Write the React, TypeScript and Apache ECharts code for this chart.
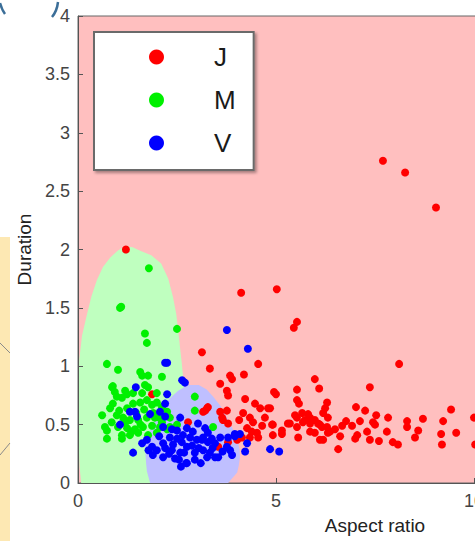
import React, { useEffect, useRef } from "react";
import * as echarts from "echarts";

const FONT = "Liberation Sans, Arial, sans-serif";

const seriesNames = ["J", "M", "V"];
const seriesColors = ["#ff0000", "#00f000", "#0000ff"];

const jData: number[][] = [
  [1.21, 2.0],
  [7.7, 2.76], [8.26, 2.66], [9.04, 2.36],
  [4.12, 1.63], [5.02, 1.66], [5.53, 1.38], [5.45, 1.33],
  [8.11, 1.02], [5.98, 0.89], [5.53, 0.8], [6.09, 0.81], [7.37, 0.82],
  [4.95, 0.78], [5.0, 0.76], [5.53, 0.71], [5.58, 0.68], [6.29, 0.69], [6.24, 0.64], [7.02, 0.65], [7.25, 0.62], [9.42, 0.63], [4.85, 0.64],
  [5.48, 0.58], [5.81, 0.59], [6.19, 0.6], [6.31, 0.56], [7.53, 0.58], [7.83, 0.56], [8.71, 0.55], [10.0, 0.56],
  [4.92, 0.5], [5.35, 0.51], [5.68, 0.52], [5.86, 0.51], [6.77, 0.53], [7.12, 0.53], [7.45, 0.52], [8.31, 0.53], [9.22, 0.53],
  [5.15, 0.45], [5.53, 0.48], [6.16, 0.48], [6.67, 0.49], [8.31, 0.48], [7.8, 0.44], [8.59, 0.45], [9.17, 0.42], [9.55, 0.43], [7.05, 0.41], [5.56, 0.39], [6.49, 0.46],
  [6.11, 0.5], [6.29, 0.48], [6.92, 0.49], [7.5, 0.5], [7.3, 0.44], [7.0, 0.38], [6.62, 0.4], [6.36, 0.44], [6.11, 0.37], [7.37, 0.37], [7.6, 0.36], [7.95, 0.35], [8.08, 0.33], [8.51, 0.39], [9.19, 0.33], [10.03, 0.33], [6.57, 0.29],
  [3.13, 1.12], [4.55, 1.02], [3.33, 0.98], [3.84, 0.92], [3.89, 0.89], [4.19, 0.93], [3.59, 0.85], [3.76, 0.79], [3.79, 0.75], [4.22, 0.72], [4.47, 0.68], [4.6, 0.64], [4.8, 0.64], [3.26, 0.64], [3.16, 0.61], [3.59, 0.61], [3.76, 0.62], [4.17, 0.6], [4.34, 0.56], [4.42, 0.52], [4.72, 0.56], [4.9, 0.5], [4.65, 0.49], [3.66, 0.54], [3.79, 0.51], [3.64, 0.56], [4.07, 0.54], [4.27, 0.47], [4.39, 0.44], [4.52, 0.43], [4.34, 0.39], [4.55, 0.39], [5.15, 0.42], [5.3, 0.51], [5.53, 0.56], [5.66, 0.6], [5.73, 0.54], [5.86, 0.56], [5.98, 0.54], [6.06, 0.51], [5.86, 0.44], [5.98, 0.43], [4.92, 0.41], [6.19, 0.37], [6.31, 0.43], [4.02, 0.37], [3.79, 0.35], [4.14, 0.39],
  [1.87, 0.76], [2.78, 0.52], [3.21, 0.62], [3.28, 0.65], [3.54, 0.31],
];

const mData: number[][] = [
  [1.79, 1.84], [1.06, 1.5], [1.09, 1.51], [2.5, 1.32], [1.69, 1.28], [1.74, 1.2],
  [0.73, 1.02], [1.01, 0.97], [1.57, 0.95], [1.62, 0.92], [1.77, 0.92], [2.12, 0.91], [0.88, 0.83], [0.93, 0.78], [0.98, 0.74], [1.19, 0.79], [1.24, 0.76], [1.69, 0.84], [1.77, 0.82], [1.62, 0.77], [1.39, 0.77], [1.99, 0.77], [2.95, 0.74], [2.95, 0.62], [0.88, 0.68], [0.81, 0.64], [0.61, 0.58], [0.68, 0.48], [0.73, 0.45], [0.73, 0.38], [1.11, 0.38], [0.86, 0.82],
  [1.24, 0.64], [1.39, 0.68], [1.57, 0.69], [1.74, 0.71], [1.87, 0.67], [1.99, 0.69], [2.12, 0.65], [2.25, 0.61], [2.32, 0.56],
  [0.98, 0.58], [1.14, 0.56], [1.31, 0.54], [1.52, 0.54], [1.74, 0.56], [1.94, 0.56], [2.12, 0.52],
  [1.01, 0.48], [1.24, 0.47], [1.44, 0.46], [1.64, 0.48], [1.87, 0.49], [2.07, 0.48], [2.25, 0.46],
  [1.11, 0.41], [1.31, 0.41], [1.52, 0.43], [1.77, 0.41], [1.99, 0.43],
  [2.32, 0.48], [2.5, 0.5], [1.11, 0.73], [3.41, 0.48],
  [1.04, 0.62], [1.47, 0.6], [1.67, 0.63], [0.85, 0.52], [1.2, 0.52], [1.58, 0.5], [1.9, 0.6], [2.05, 0.56], [1.35, 0.44],
];

const vData: number[][] = [
  [3.76, 1.31], [4.29, 1.15], [2.2, 1.03], [2.25, 1.03], [2.63, 0.88], [2.7, 0.86], [1.46, 0.82], [2.25, 0.76], [2.2, 0.68], [1.31, 0.61], [1.44, 0.61], [1.49, 0.57], [1.82, 0.59], [2.07, 0.61], [2.2, 0.57], [1.06, 0.5], [2.58, 0.56], [2.15, 0.48], [2.37, 0.46],
  [1.39, 0.26], [1.62, 0.34], [1.74, 0.37], [1.87, 0.31], [1.99, 0.28], [2.15, 0.34],
  [2.32, 0.39], [2.5, 0.38], [2.65, 0.41], [2.83, 0.39], [3.0, 0.37], [3.16, 0.39], [3.28, 0.35],
  [1.89, 0.24], [2.15, 0.22], [2.37, 0.28], [2.58, 0.26], [2.75, 0.31], [2.95, 0.26], [3.16, 0.28],
  [2.5, 0.45], [2.75, 0.47], [2.9, 0.44], [2.75, 0.17], [2.45, 0.21],
  [3.21, 0.47], [3.28, 0.43], [3.13, 0.37], [3.38, 0.38], [3.59, 0.39], [3.46, 0.34], [3.76, 0.31], [3.33, 0.26], [3.89, 0.24], [3.46, 0.22], [3.26, 0.22],
  [3.03, 0.51], [3.79, 0.39], [3.96, 0.42], [3.84, 0.28], [3.54, 0.22],
  [3.96, 0.4], [4.09, 0.42], [4.27, 0.34], [4.22, 0.27], [4.85, 0.29], [5.08, 0.27], [2.73, 0.17],
  [2.05, 0.4], [2.4, 0.33], [2.62, 0.35], [2.88, 0.32], [3.05, 0.3], [2.3, 0.25], [2.55, 0.2], [2.95, 0.2], [3.1, 0.17], [2.6, 0.14], [2.2, 0.3], [2.68, 0.26], [3.4, 0.3], [3.65, 0.27], [1.78, 0.28],
];

// decision-region outlines in data units
const mRegion: number[][] = [
  [1.19, 2.03], [1.38, 2.02], [1.57, 1.99], [1.85, 1.95], [2.1, 1.88], [2.28, 1.75], [2.4, 1.59], [2.48, 1.45], [2.53, 1.31], [2.58, 1.15], [2.62, 1.03], [2.67, 0.85], [2.7, 0.71], [2.72, 0.37], [2.6, -0.2], [1.4, -0.5], [0.2, -0.2],
  [0.08, 0], [0.04, 0.14], [0.01, 0.37], [0.0, 0.71], [0.03, 1.05], [0.1, 1.26], [0.23, 1.45], [0.34, 1.6], [0.48, 1.74], [0.63, 1.85], [0.81, 1.93], [1.0, 1.99],
];
const vRegion: number[][] = [
  [2.1, 0.62], [2.3, 0.72], [2.53, 0.79], [2.78, 0.84], [3.05, 0.84], [3.25, 0.8], [3.41, 0.74], [3.6, 0.66], [3.76, 0.56], [3.9, 0.47], [4.02, 0.37], [4.08, 0.29], [4.09, 0.22], [4.06, 0.15], [4.02, 0.09], [3.79, 0], [3.4, -0.2], [2.2, -0.2],
  [1.82, 0], [1.74, 0.1], [1.72, 0.17], [1.69, 0.31], [1.74, 0.39], [1.82, 0.45], [1.95, 0.54],
];

const regionColors = { bg: "#ffbfbf", m: "#bfffbf", v: "#bfbfff" };

export default function App() {
  const ref = useRef<HTMLDivElement>(null);
  useEffect(() => {
    if (!ref.current) return;
    const chart = echarts.init(ref.current, undefined, { renderer: "svg" });
    const regionSeries = (pts: number[][], color: string) => ({
      type: "custom",
      silent: true,
      clip: true,
      z: 1,
      data: [[0, 0]],
      renderItem: (_p: any, api: any) => ({
        type: "polygon",
        shape: { points: pts.map((p) => api.coord(p)) },
        style: { fill: color },
      }),
    });
    const datasets = [jData, mData, vData];
    chart.setOption({
      animation: false,
      grid: {
        left: 78,
        top: 16,
        width: 594,
        height: 467,
        show: true,
        backgroundColor: regionColors.bg,
        borderColor: "#666",
        borderWidth: 1,
      },
      xAxis: {
        type: "value",
        min: 0,
        max: 15,
        interval: 5,
        axisLine: { show: true, lineStyle: { color: "#555" } },
        axisTick: { show: true, inside: true, length: 5, lineStyle: { color: "#555" } },
        splitLine: { show: false },
        axisLabel: { color: "#444", fontSize: 18, margin: 9, fontFamily: FONT },
        name: "Aspect ratio",
        nameLocation: "middle",
        nameGap: 33,
        nameTextStyle: { color: "#222", fontSize: 19, fontFamily: FONT },
        z: 5,
      },
      yAxis: {
        type: "value",
        min: 0,
        max: 4,
        interval: 0.5,
        axisLine: { show: true, lineStyle: { color: "#555" } },
        axisTick: { show: true, inside: true, length: 5, lineStyle: { color: "#555" } },
        splitLine: { show: false },
        axisLabel: { color: "#444", fontSize: 18, margin: 8, fontFamily: FONT },
        name: "Duration",
        nameLocation: "middle",
        nameGap: 43,
        nameTextStyle: { color: "#222", fontSize: 19, fontFamily: FONT },
        z: 5,
      },
      legend: {
        data: seriesNames,
        orient: "vertical",
        left: 94,
        top: 32,
        padding: [12, 18, 14, 55],
        itemGap: 17,
        itemWidth: 15,
        itemHeight: 15,
        icon: "circle",
        backgroundColor: "#fff",
        borderColor: "#6a6a6a",
        borderWidth: 2,
        shadowColor: "rgba(0,0,0,0.35)",
        shadowBlur: 3,
        shadowOffsetX: 2,
        shadowOffsetY: 2,
        textStyle: { fontSize: 26, lineHeight: 26, color: "#1a1a1a", fontFamily: FONT, padding: [0, 0, 0, 45] },
      },
      series: [
        regionSeries(mRegion, regionColors.m),
        regionSeries(vRegion, regionColors.v),
        ...seriesNames.map((name, i) => ({
          name,
          type: "scatter",
          z: 3,
          symbol: "circle",
          symbolSize: 8,
          itemStyle: { color: seriesColors[i], opacity: 1 },
          data: datasets[i],
        })),
      ],
      graphic: [
        { type: "rect", shape: { x: 0, y: 237, width: 10, height: 304 }, style: { fill: "#fde8b3" }, z: 0 },
        { type: "line", shape: { x1: 0, y1: 343, x2: 10, y2: 353 }, style: { stroke: "#8a8a8a", lineWidth: 1 } },
        { type: "line", shape: { x1: 0, y1: 455, x2: 10, y2: 443 }, style: { stroke: "#8a8a8a", lineWidth: 1 } },
        { type: "bezierCurve", shape: { x1: 0, y1: 3, x2: 5, y2: 14, cpx1: 2, cpy1: 10 }, style: { stroke: "#3b6e98", lineWidth: 2.5, fill: null } },
        { type: "bezierCurve", shape: { x1: 58, y1: 2, x2: 52, y2: 17, cpx1: 57, cpy1: 11 }, style: { stroke: "#3b6e98", lineWidth: 2.5, fill: null } },
      ],
    });
    return () => chart.dispose();
  }, []);
  return (
    <div style={{ position: "fixed", left: 0, top: 0, width: 475, height: 541, overflow: "hidden", background: "#fff" }}>
      <div ref={ref} style={{ width: 700, height: 541 }} />
    </div>
  );
}
